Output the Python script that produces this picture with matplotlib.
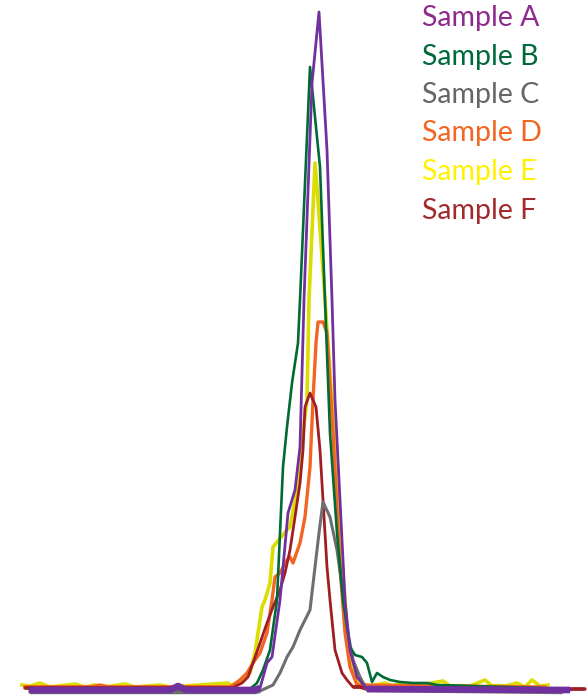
import matplotlib
matplotlib.use("Agg")
import matplotlib.pyplot as plt
import numpy as np

# Data: x position (channel) and signal height
a_x = [30, 170, 178, 186, 255, 260, 267, 272, 280, 288, 295, 300, 304, 312, 319, 327, 332, 335, 340, 345, 350, 357, 367, 570]
a_h = [-1, -1, 3, -1, -1, 1, 26, 32, 89, 176, 199, 242, 389, 606, 677, 539, 389, 289, 189, 89, 39, 12, 0, -1]

b_x = [30, 250, 257, 263, 270, 277, 280, 283, 287, 292, 298, 300, 310, 315, 320, 325, 330, 337, 343, 350, 355, 362, 367, 372, 377, 383, 390, 400, 413, 427, 437, 540]
b_h = [0, 0, 6, 19, 39, 89, 156, 222, 262, 306, 346, 389, 622, 572, 522, 389, 256, 156, 89, 42, 34, 32, 26, 7, 16, 12, 9, 7, 6, 6, 4, 1]

c_x = [30, 255, 260, 273, 280, 287, 293, 300, 310, 315, 319, 323, 330, 337, 343, 348, 353, 360, 367, 562]
c_h = [-3, -3, -2, 4, 16, 32, 42, 59, 79, 122, 156, 187, 172, 139, 96, 56, 29, 12, -1, -3]

d_x = [25, 90, 100, 110, 230, 240, 247, 253, 260, 267, 272, 275, 280, 287, 290, 293, 300, 305, 310, 313, 316, 318, 323, 327, 333, 340, 345, 350, 357, 545]
d_h = [2, 2, 4, 2, 2, 9, 16, 26, 36, 56, 89, 112, 116, 129, 132, 126, 146, 172, 222, 289, 346, 367, 367, 356, 256, 122, 56, 22, 4, 2]

e_x = [22, 30, 40, 50, 75, 85, 95, 105, 125, 135, 160, 170, 228, 232, 236, 243, 250, 255, 258, 262, 265, 270, 273, 287, 290, 295, 300, 303, 307, 308, 309, 315, 318, 325, 332, 340, 345, 348, 353, 358,
       370, 385, 393, 400, 407, 420, 443, 450, 470, 485, 492, 505, 517, 525, 532, 540, 548]
e_h = [4, 3, 6, 2, 5, 2, 4, 2, 5, 2, 4, 2, 6, 3, 5, 9, 16, 36, 56, 82, 89, 106, 142, 159, 162, 189, 222, 256, 289, 339, 389, 526, 489, 389, 289, 156, 89, 39, 16, 6,
       3, 6, 3, 6, 3, 4, 8, 3, 3, 9, 3, 3, 6, 2, 9, 3, 4]

f_x = [25, 232, 242, 248, 253, 260, 267, 273, 280, 285, 290, 295, 300, 303, 305, 310, 316, 320, 323, 327, 330, 335, 342, 347, 353, 360, 367, 585]
f_h = [1, 1, 6, 12, 26, 46, 66, 82, 99, 116, 139, 172, 206, 239, 282, 296, 282, 239, 189, 122, 89, 39, 16, 9, 2, 2, 0, 0]

labels = ["Sample A", "Sample B", "Sample C", "Sample D", "Sample E", "Sample F"]
line_colors = ["#7030A0", "#006B35", "#6E6E6E", "#F26522", "#DCDC00", "#A01E23"]
text_colors = ["#8E2A8E", "#00693A", "#666666", "#F26522", "#FFF200", "#A32A2C"]

series = {
    "Sample A": (a_x, a_h),
    "Sample B": (b_x, b_h),
    "Sample C": (c_x, c_h),
    "Sample D": (d_x, d_h),
    "Sample E": (e_x, e_h),
    "Sample F": (f_x, f_h),
}

fig = plt.figure(figsize=(5.87, 6.95), dpi=100)
ax = fig.add_axes([0, 0, 1, 1])
ax.set_xlim(0, 587)
ax.set_ylim(-6, 689)
ax.axis("off")

draw_order = ["Sample E", "Sample D", "Sample F", "Sample C", "Sample B", "Sample A"]
widths = {"Sample A": 2.0, "Sample B": 1.9, "Sample C": 2.2, "Sample D": 2.4, "Sample E": 2.6, "Sample F": 2.0}
base_widths = {"Sample A": 4.8, "Sample C": 3.2, "Sample E": 3.0, "Sample D": 2.6, "Sample F": 2.6}
for name in draw_order:
    i = labels.index(name)
    x = np.array(series[name][0], dtype=float)
    h = np.array(series[name][1], dtype=float)
    ax.plot(x, h, color=line_colors[i], lw=widths[name], solid_joinstyle="round")
    if name in base_widths:
        flat = np.where(np.abs(h) <= 3, h, np.nan)
        ax.plot(x, flat, color=line_colors[i], lw=base_widths[name], solid_capstyle="butt")

for i, name in enumerate(labels):
    fig.text(422 / 587, 1 - (18 + 38.5 * i) / 695, name, color=text_colors[i],
             fontsize=20.5, family="Lato", va="center", ha="left")

fig.savefig("out.png", dpi=100)
